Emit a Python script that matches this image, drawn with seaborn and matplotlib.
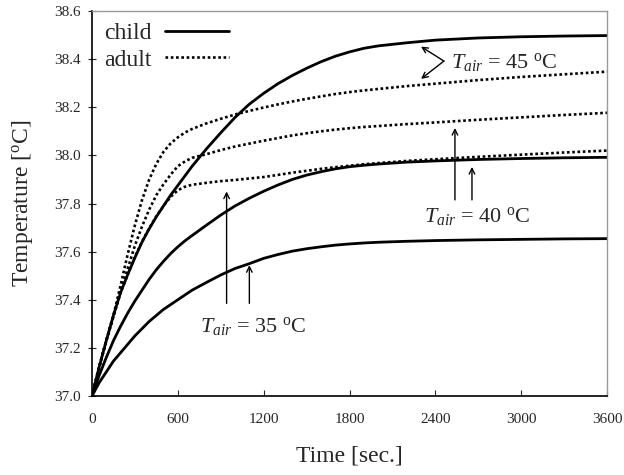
import numpy as np
import pandas as pd
import matplotlib
matplotlib.use('Agg')
import matplotlib.pyplot as plt
import seaborn as sns

# Dados (tempo em s, temperatura em oC)
TIME = [0, 50, 100, 150, 200, 250, 300, 350, 400, 450, 500, 550, 600, 650, 700,
        800, 900, 1000, 1100, 1200, 1300, 1400, 1500, 1600, 1700, 1800, 1900, 2000,
        2200, 2400, 2700, 3000, 3300, 3600]

child_45 = [37.00, 37.12, 37.23, 37.335, 37.43, 37.505, 37.575, 37.64, 37.695, 37.745,
            37.79, 37.835, 37.875, 37.915, 37.955,
            38.027, 38.094, 38.158, 38.213, 38.258, 38.298, 38.332, 38.362, 38.389,
            38.412, 38.43, 38.445, 38.455,
            38.468, 38.479, 38.488, 38.493, 38.496, 38.498]
child_40 = [37.00, 37.085, 37.16, 37.23, 37.29, 37.345, 37.395, 37.44, 37.485, 37.525,
            37.56, 37.592, 37.62, 37.645, 37.667,
            37.71, 37.752, 37.79, 37.822, 37.851, 37.877, 37.90, 37.918, 37.932,
            37.944, 37.953, 37.959, 37.964,
            37.972, 37.977, 37.983, 37.987, 37.99, 37.992]
child_35 = [37.00, 37.055, 37.10, 37.145, 37.18, 37.215, 37.25, 37.28, 37.31, 37.335,
            37.36, 37.38, 37.40, 37.42, 37.44,
            37.472, 37.503, 37.53, 37.55, 37.572, 37.588, 37.602, 37.612, 37.62,
            37.627, 37.632, 37.636, 37.639,
            37.643, 37.646, 37.649, 37.651, 37.653, 37.654]
adult_45 = [37.00, 37.12, 37.23, 37.335, 37.46, 37.59, 37.71, 37.815, 37.90, 37.965,
            38.015, 38.05, 38.075, 38.095, 38.11,
            38.133, 38.152, 38.17, 38.185, 38.199, 38.212, 38.224, 38.235, 38.245,
            38.255, 38.263, 38.27, 38.276,
            38.288, 38.298, 38.313, 38.326, 38.337, 38.348]
adult_40 = [37.00, 37.12, 37.23, 37.335, 37.435, 37.53, 37.625, 37.705, 37.775, 37.835,
            37.88, 37.92, 37.955, 37.975, 37.99,
            38.005, 38.022, 38.037, 38.049, 38.061, 38.072, 38.083, 38.092, 38.10,
            38.107, 38.113, 38.118, 38.122,
            38.13, 38.137, 38.148, 38.158, 38.168, 38.177]
adult_35 = [37.00, 37.12, 37.23, 37.33, 37.43, 37.505, 37.578, 37.642, 37.697, 37.747,
            37.79, 37.828, 37.855, 37.87, 37.878,
            37.886, 37.893, 37.898, 37.904, 37.91, 37.919, 37.928, 37.936, 37.944,
            37.951, 37.957, 37.963, 37.968,
            37.977, 37.984, 37.994, 38.003, 38.012, 38.02]

X_TICKS = [0, 600, 1200, 1800, 2400, 3000, 3600]
Y_TICKS = [37.0, 37.2, 37.4, 37.6, 37.8, 38.0, 38.2, 38.4, 38.6]

sns.set_style('ticks')
plt.rcParams['font.family'] = ['Liberation Serif', 'DejaVu Serif']
plt.rcParams['mathtext.fontset'] = 'custom'
plt.rcParams['mathtext.rm'] = 'Liberation Serif'
plt.rcParams['mathtext.it'] = 'Liberation Serif:italic'

fig = plt.figure(figsize=(6.24, 4.75), dpi=100)
ax = fig.add_axes([0.1474, 0.1663, 0.8254, 0.8105])

SOLID = dict(color='black', lw=2.0)
DOT = dict(color='black', lw=1.9, dashes=(1, 1.0))

sns.lineplot(x=TIME, y=child_45, ax=ax, label='child', **SOLID)
sns.lineplot(x=TIME, y=child_40, ax=ax, label='_nolegend_', **SOLID)
sns.lineplot(x=TIME, y=child_35, ax=ax, label='_nolegend_', **SOLID)
sns.lineplot(x=TIME, y=adult_45, ax=ax, label='adult', **DOT)
sns.lineplot(x=TIME, y=adult_40, ax=ax, label='_nolegend_', **DOT)
sns.lineplot(x=TIME, y=adult_35, ax=ax, label='_nolegend_', **DOT)

ax.set_xlim(0, 3600)
ax.set_ylim(37.0, 38.6)
ax.set_xticks(X_TICKS)
ax.set_yticks(Y_TICKS)
ax.set_yticklabels([f'{v:.1f}' for v in Y_TICKS])
ax.tick_params(axis='x', direction='in', length=4, width=0.8, pad=12, labelsize=11)
ax.tick_params(axis='y', direction='inout', length=6, width=0.8, pad=5, labelsize=11)
ax.set_xlabel('Time [sec.]', fontsize=17, labelpad=14)
ax.set_ylabel(r'Temperature [$^{\mathrm{o}}$C]', fontsize=17, labelpad=14)

for s in ['left', 'bottom']:
    ax.spines[s].set_color('black')
    ax.spines[s].set_linewidth(1.2)
for s in ['top', 'right']:
    ax.spines[s].set_visible(True)
    ax.spines[s].set_color('#999999')
    ax.spines[s].set_linewidth(1.0)

leg = ax.legend(loc='upper left', frameon=False, fontsize=17, markerfirst=False,
                handlelength=2.7, labelspacing=0.2, borderaxespad=0.1,
                handletextpad=0.6, alignment='left')

# anotações
lab45 = r'$T_{air}$ = 45 $^{\mathrm{o}}$C'
lab40 = r'$T_{air}$ = 40 $^{\mathrm{o}}$C'
lab35 = r'$T_{air}$ = 35 $^{\mathrm{o}}$C'
ax.text(2510, 38.385, lab45, fontsize=16, va='center', ha='left')
ax.text(2690, 37.745, lab40, fontsize=16, va='center', ha='center')
ax.text(1125, 37.29, lab35, fontsize=16, va='center', ha='center')

ARW = dict(arrowstyle='->', lw=1.0, color='black', shrinkA=0, shrinkB=0)
ax.annotate('', xy=(2300, 38.452), xytext=(2460, 38.392), arrowprops=ARW)
ax.annotate('', xy=(2300, 38.318), xytext=(2460, 38.392), arrowprops=ARW)
ax.annotate('', xy=(2537, 38.114), xytext=(2537, 37.815), arrowprops=ARW)
ax.annotate('', xy=(2656, 37.952), xytext=(2656, 37.815), arrowprops=ARW)
ax.annotate('', xy=(941, 37.85), xytext=(941, 37.385), arrowprops=ARW)
ax.annotate('', xy=(1100, 37.544), xytext=(1100, 37.385), arrowprops=ARW)

plt.savefig('out.png', dpi=100)
plt.close()
